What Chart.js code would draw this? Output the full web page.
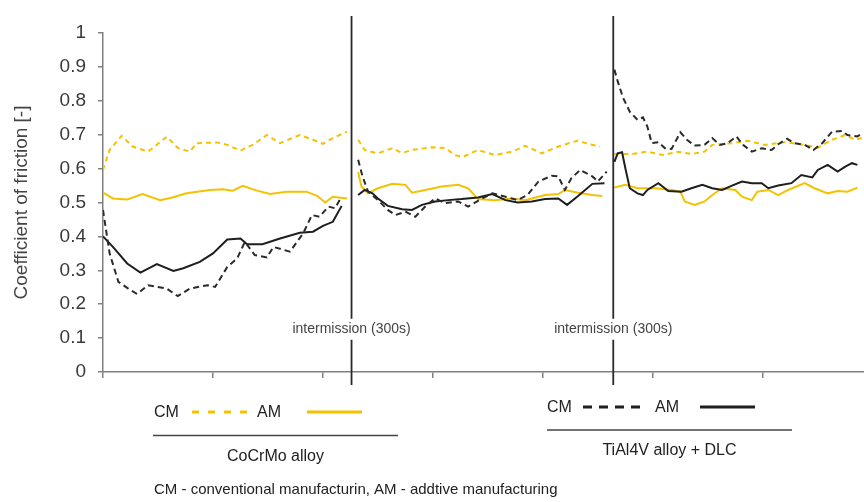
<!DOCTYPE html>
<html>
<head>
<meta charset="utf-8">
<script src="https://cdn.jsdelivr.net/npm/chart.js@4.4.1/dist/chart.umd.min.js"></script>
<style>
  html, body { margin: 0; padding: 0; background: #fff; }
  #wrap { width: 864px; height: 502px; position: relative; }
</style>
</head>
<body>
<div id="wrap"><canvas id="cof"></canvas></div>
<script>
// x = test time in axis divisions (one tick per division), y = coefficient of friction
const xTicks = [0, 1, 2, 3, 4, 5, 6];
const breakX = [2.26, 4.64]; // intermissions
const breakLabel = "intermission (300s)";
const breakLabelY = 0.125;

// CoCrMo alloy, CM (yellow dashed)
const cmCoX = [0, 0.06, 0.17, 0.27, 0.41, 0.58, 0.68, 0.79, 0.85, 1.04, 1.13, 1.25, 1.36, 1.49, 1.61, 1.79, 1.91, 2.0, 2.09, 2.22,
  2.26,
  2.32, 2.38, 2.5, 2.63, 2.72, 2.81, 2.99, 3.11, 3.2, 3.27, 3.41, 3.56, 3.72, 3.84, 3.99, 4.14, 4.32, 4.41, 4.52,
  4.64,
  4.65, 4.81, 4.95, 5.09, 5.23, 5.35, 5.47, 5.54, 5.72, 5.86, 6.02, 6.2, 6.38, 6.5, 6.63, 6.75, 6.84, 6.9];
const cmCoY = [0.596, 0.655, 0.697, 0.665, 0.65, 0.694, 0.661, 0.65, 0.675, 0.677, 0.67, 0.653, 0.67, 0.699, 0.675, 0.699, 0.685, 0.673, 0.69, 0.709,
  null,
  0.685, 0.655, 0.645, 0.66, 0.646, 0.655, 0.663, 0.661, 0.64, 0.634, 0.655, 0.64, 0.65, 0.667, 0.645, 0.665, 0.683, 0.673, 0.665,
  null,
  0.643, 0.643, 0.65, 0.64, 0.65, 0.643, 0.65, 0.67, 0.675, 0.682, 0.67, 0.678, 0.67, 0.662, 0.685, 0.699, 0.685, 0.69];

// CoCrMo alloy, AM (yellow solid)
const amCoX = [0, 0.09, 0.22, 0.36, 0.52, 0.63, 0.76, 0.97, 1.09, 1.18, 1.27, 1.4, 1.52, 1.67, 1.85, 1.95, 2.02, 2.09, 2.22,
  2.26,
  2.32, 2.35, 2.41, 2.5, 2.63, 2.75, 2.81, 2.93, 3.08, 3.23, 3.32, 3.41, 3.56, 3.72, 3.84, 4.02, 4.14, 4.2, 4.32, 4.45, 4.54,
  4.64,
  4.65, 4.75, 4.86, 5.02, 5.17, 5.25, 5.29, 5.38, 5.47, 5.54, 5.63, 5.75, 5.81, 5.9, 5.95, 6.05, 6.14, 6.23, 6.38, 6.47, 6.59, 6.68, 6.77, 6.86];
const amCoY = [0.529, 0.512, 0.509, 0.525, 0.507, 0.515, 0.527, 0.537, 0.539, 0.535, 0.549, 0.535, 0.525, 0.532, 0.532, 0.519, 0.5, 0.517, 0.512,
  null,
  0.59, 0.547, 0.527, 0.542, 0.555, 0.552, 0.529, 0.537, 0.547, 0.552, 0.542, 0.51, 0.507, 0.512, 0.507, 0.522, 0.525, 0.537, 0.529, 0.522, 0.519,
  null,
  0.544, 0.552, 0.542, 0.542, 0.537, 0.532, 0.503, 0.493, 0.503, 0.522, 0.542, 0.537, 0.517, 0.507, 0.532, 0.537, 0.522, 0.537, 0.557, 0.542, 0.527, 0.534, 0.532, 0.544];

// TiAl4V alloy + DLC, CM (black dashed)
const cmTiX = [0, 0.06, 0.14, 0.23, 0.31, 0.41, 0.58, 0.68, 0.79, 0.95, 1.02, 1.13, 1.22, 1.29, 1.38, 1.49, 1.55, 1.7, 1.82, 1.9, 1.97, 2.05, 2.11, 2.16,
  2.26,
  2.32, 2.36, 2.41, 2.5, 2.59, 2.66, 2.75, 2.84, 2.93, 3.02, 3.11, 3.23, 3.32, 3.45, 3.54, 3.66, 3.77, 3.86, 3.96, 4.08, 4.14, 4.2, 4.26, 4.34, 4.45, 4.5, 4.58,
  4.64,
  4.65, 4.68, 4.73, 4.79, 4.86, 4.91, 4.95, 4.99, 5.05, 5.11, 5.17, 5.25, 5.31, 5.38, 5.47, 5.54, 5.61, 5.68, 5.76, 5.82, 5.9, 5.99, 6.08, 6.14, 6.22, 6.29, 6.38, 6.46, 6.54, 6.63, 6.72, 6.77, 6.86, 6.91];
const cmTiY = [0.478, 0.35, 0.266, 0.246, 0.23, 0.256, 0.246, 0.224, 0.246, 0.256, 0.251, 0.31, 0.335, 0.384, 0.345, 0.338, 0.369, 0.355, 0.409, 0.463, 0.458, 0.488, 0.483, 0.512,
  null,
  0.626, 0.577, 0.532, 0.507, 0.478, 0.463, 0.473, 0.458, 0.488, 0.512, 0.498, 0.503, 0.488, 0.512, 0.527, 0.517, 0.507, 0.522, 0.562, 0.579, 0.577, 0.537, 0.572, 0.596, 0.577, 0.562, 0.591,
  null,
  0.892, 0.858, 0.808, 0.768, 0.744, 0.751, 0.724, 0.675, 0.678, 0.66, 0.658, 0.707, 0.685, 0.668, 0.67, 0.69, 0.67, 0.675, 0.695, 0.67, 0.65, 0.66, 0.655, 0.672, 0.688, 0.675, 0.67, 0.655, 0.675, 0.709, 0.711, 0.699, 0.695, 0.705];

// TiAl4V alloy + DLC, AM (black solid)
const amTiX = [0, 0.09, 0.22, 0.34, 0.49, 0.64, 0.73, 0.88, 1.0, 1.13, 1.25, 1.31, 1.45, 1.61, 1.79, 1.91, 2.0, 2.09, 2.17,
  2.26,
  2.32, 2.38, 2.45, 2.5, 2.59, 2.72, 2.81, 2.9, 3.02, 3.14, 3.26, 3.41, 3.54, 3.66, 3.77, 3.9, 4.02, 4.14, 4.22, 4.32, 4.45, 4.56,
  4.64,
  4.65, 4.68, 4.72, 4.75, 4.79, 4.86, 4.91, 4.95, 5.05, 5.14, 5.26, 5.35, 5.45, 5.54, 5.63, 5.72, 5.81, 5.9, 5.99, 6.05, 6.14, 6.26, 6.35, 6.45, 6.5, 6.59, 6.68, 6.75, 6.81, 6.86];
const amTiY = [0.4, 0.369, 0.32, 0.293, 0.318, 0.298, 0.306, 0.325, 0.35, 0.391, 0.394, 0.377, 0.377, 0.394, 0.411, 0.414, 0.431, 0.443, 0.49,
  null,
  0.522, 0.537, 0.527, 0.512, 0.49, 0.48, 0.478, 0.493, 0.503, 0.507, 0.51, 0.515, 0.525, 0.507, 0.5, 0.503, 0.51, 0.512, 0.493, 0.519, 0.555, 0.557,
  null,
  0.62, 0.645, 0.648, 0.601, 0.542, 0.527, 0.522, 0.537, 0.557, 0.534, 0.532, 0.542, 0.552, 0.542, 0.537, 0.55, 0.562, 0.557, 0.557, 0.542, 0.55, 0.557, 0.581, 0.574, 0.596, 0.611, 0.591, 0.606, 0.616, 0.611];

const YELLOW = "#f3c200";
const BLACK = "#1e1e1e";
const FONT = '"Liberation Sans", Arial, sans-serif';

function pts(xs, ys) {
  return xs.map((x, i) => ({ x: x, y: ys[i] }));
}

function series(label, xs, ys, color, dash) {
  return {
    label: label,
    data: pts(xs, ys),
    borderColor: color,
    borderWidth: 2,
    borderDash: dash,
    pointRadius: 0,
    tension: 0,
    spanGaps: false,
    fill: false,
  };
}

// legend / footer drawn under the plot
const overlay = {
  id: "overlay",
  afterDraw(chart) {
    const { ctx, chartArea, scales } = chart;
    const x = scales.x, y = scales.y;
    ctx.save();

    // intermission markers
    breakX.forEach((v) => {
      const px = x.getPixelForValue(v);
      const ly = y.getPixelForValue(breakLabelY);
      ctx.strokeStyle = "#2a2a2a";
      ctx.lineWidth = 1.8;
      ctx.setLineDash([]);
      ctx.beginPath();
      ctx.moveTo(px, chartArea.top - 17);
      ctx.lineTo(px, ly - 11);
      ctx.moveTo(px, ly + 10);
      ctx.lineTo(px, chartArea.bottom + 13);
      ctx.stroke();
      ctx.fillStyle = "#444";
      ctx.font = "14px " + FONT;
      ctx.textAlign = "center";
      ctx.textBaseline = "middle";
      ctx.fillText(breakLabel, px, ly);
    });

    function group(g) {
      ctx.font = "16px " + FONT;
      ctx.fillStyle = "#222";
      ctx.textAlign = "left";
      ctx.textBaseline = "middle";
      ctx.fillText("CM", g.cm, g.y);
      ctx.fillText("AM", g.am, g.y);
      ctx.strokeStyle = g.color;
      ctx.lineWidth = 3;
      ctx.setLineDash(g.dash);
      ctx.beginPath();
      ctx.moveTo(g.d0, g.y - 1);
      ctx.lineTo(g.d1, g.y - 1);
      ctx.stroke();
      ctx.setLineDash([]);
      ctx.beginPath();
      ctx.moveTo(g.s0, g.y - 1);
      ctx.lineTo(g.s1, g.y - 1);
      ctx.stroke();
      ctx.strokeStyle = "#444";
      ctx.lineWidth = 1.5;
      ctx.beginPath();
      ctx.moveTo(g.u0, g.uy);
      ctx.lineTo(g.u1, g.uy);
      ctx.stroke();
      ctx.textAlign = "center";
      ctx.fillText(g.name, (g.u0 + g.u1) / 2, g.uy + 21);
    }

    group({ name: "CoCrMo alloy", color: YELLOW, dash: [7, 9], y: 413,
      cm: 154, d0: 192, d1: 247, am: 257, s0: 307, s1: 362, u0: 153, u1: 398, uy: 435.5 });
    group({ name: "TiAl4V alloy + DLC", color: BLACK, dash: [9, 7], y: 408,
      cm: 547, d0: 583, d1: 640, am: 655, s0: 700, s1: 755, u0: 547, u1: 792, uy: 430 });

    ctx.font = "15px " + FONT;
    ctx.fillStyle = "#222";
    ctx.textAlign = "left";
    ctx.textBaseline = "middle";
    ctx.fillText("CM - conventional manufacturin, AM - addtive manufacturing", 154, 490);
    ctx.restore();
  },
};

new Chart(document.getElementById("cof"), {
  type: "line",
  data: {
    datasets: [
      series("TiAl4V CM", cmTiX, cmTiY, "#2a2a2a", [6, 4]),
      series("TiAl4V AM", amTiX, amTiY, BLACK, []),
      series("CoCrMo CM", cmCoX, cmCoY, YELLOW, [5, 4]),
      series("CoCrMo AM", amCoX, amCoY, YELLOW, []),
    ],
  },
  options: {
    responsive: true,
    maintainAspectRatio: false,
    animation: false,
    layout: { padding: { top: 33, right: 0, left: 0, bottom: 0 } },
    plugins: { legend: { display: false }, tooltip: { enabled: false } },
    scales: {
      x: {
        type: "linear",
        min: 0,
        max: 6.92,
        afterBuildTicks: (s) => { s.ticks = xTicks.map((v) => ({ value: v })); },
        afterFit: (s) => { s.height = 130; },
        ticks: { display: false },
        grid: { display: true, drawOnChartArea: false, drawTicks: true, tickLength: 6, color: "#808080", lineWidth: 1.5 },
        border: { color: "#808080", width: 1.5 },
      },
      y: {
        min: 0,
        max: 1,
        afterFit: (s) => { s.width = 103; },
        ticks: {
          stepSize: 0.1,
          color: "#3a3a3a",
          font: { family: FONT, size: 19 },
          padding: 12,
          callback: (v) => String(Number(v.toFixed(1))),
        },
        grid: { display: true, drawOnChartArea: false, drawTicks: true, tickLength: 5, color: "#808080", lineWidth: 1.5 },
        border: { color: "#808080", width: 1.5 },
        title: { display: true, text: "Coefficient of friction [-]", color: "#444", font: { family: FONT, size: 19 }, padding: { top: 10, bottom: 0 } },
      },
    },
  },
  plugins: [overlay],
});
</script>
</body>
</html>
